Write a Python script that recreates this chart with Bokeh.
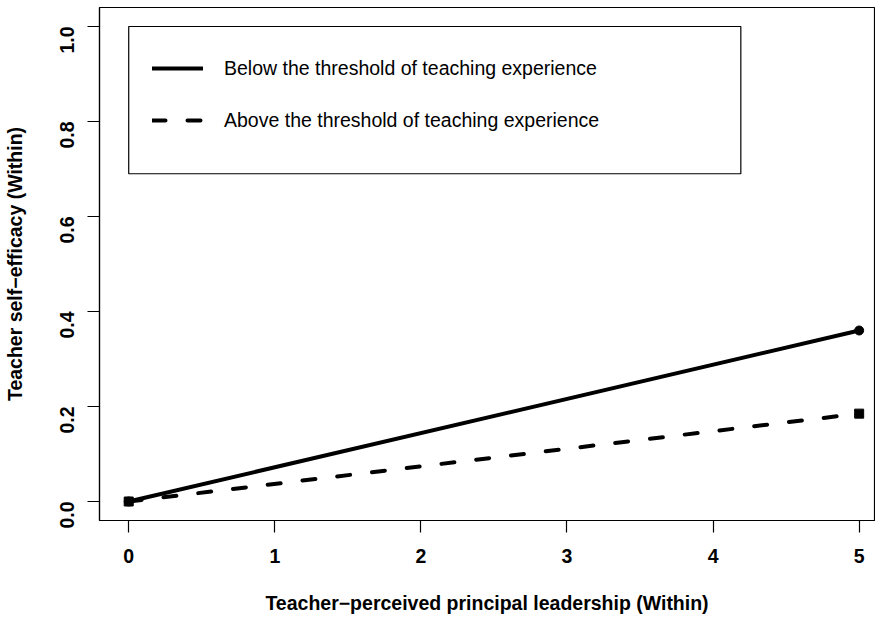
import math
from bokeh.plotting import figure
from bokeh.models import (Range1d, FixedTicker, PrintfTickFormatter, Legend, LegendItem,
                          BoxAnnotation, ColumnDataSource)
from bokeh.embed import file_html
from bokeh.resources import INLINE

# ---- data ----
leadership = [0, 5]
below_threshold = [0.0, 0.36]
above_threshold = [0.0, 0.185]
x_ticks = [0, 1, 2, 3, 4, 5]
y_ticks = [0.0, 0.2, 0.4, 0.6, 0.8, 1.0]
series_labels = ["Below the threshold of teaching experience",
                 "Above the threshold of teaching experience"]
x_title = "Teacher\u2212perceived principal leadership (Within)"
y_title = "Teacher self\u2212efficacy (Within)"

FONT = "Liberation Sans"
FS = "19.5px"

p = figure(width=875, height=616, output_backend="svg", toolbar_location=None,
           x_range=Range1d(-0.2, 5.105), y_range=Range1d(-0.04, 1.04),
           min_border_left=92, min_border_right=1, min_border_top=7, min_border_bottom=90)
p.background_fill_color = "white"
p.border_fill_color = "white"
p.outline_line_color = "black"
p.outline_line_width = 1.2
p.xgrid.visible = False
p.ygrid.visible = False

src = ColumnDataSource(dict(x=leadership, below=below_threshold, above=above_threshold))

r1 = p.line("x", "below", source=src, line_color="black", line_width=4, line_cap="round")
r2 = p.line("x", "above", source=src, line_color="black", line_width=4, line_cap="round",
            line_dash="13 22")
p.scatter("x", "below", source=src, marker="circle", size=9, color="black")
p.scatter("x", "above", source=src, marker="square", size=9, color="black")

for ax in (p.xaxis[0], p.yaxis[0]):
    ax.axis_line_color = "black"
    ax.axis_line_width = 1.2
    ax.major_tick_line_color = "black"
    ax.major_tick_line_width = 1.2
    ax.major_tick_in = 0
    ax.major_tick_out = 12
    ax.minor_tick_line_color = None
    ax.major_label_text_font = FONT
    ax.major_label_text_font_size = FS
    ax.major_label_text_font_style = "bold"
    ax.major_label_text_color = "black"
    ax.axis_label_text_font = FONT
    ax.axis_label_text_font_size = FS
    ax.axis_label_text_font_style = "bold"
    ax.axis_label_text_color = "black"

p.xaxis.ticker = FixedTicker(ticks=x_ticks)
p.yaxis.ticker = FixedTicker(ticks=y_ticks)
p.yaxis.formatter = PrintfTickFormatter(format="%.1f")
p.yaxis.major_label_orientation = math.pi / 2
p.xaxis.major_label_standoff = 16
p.yaxis.major_label_standoff = 21
p.xaxis.axis_label = x_title
p.yaxis.axis_label = y_title
p.xaxis.axis_label_standoff = 26
p.yaxis.axis_label_standoff = 24

# legend frame (R legend box, placed at x=0, y=1 in data units)
p.add_layout(BoxAnnotation(left=0, right=4.19, top=1.0, bottom=0.69,
                           fill_alpha=0, line_color="black", line_alpha=1.0, line_width=1.2))

legend = Legend(items=[LegendItem(label=series_labels[0], renderers=[r1]),
                       LegendItem(label=series_labels[1], renderers=[r2])],
                location=(29, 352), margin=0, padding=24, spacing=4,
                glyph_width=51, glyph_height=48, label_height=48, label_standoff=21,
                border_line_alpha=0, background_fill_alpha=0,
                label_text_font=FONT, label_text_font_size=FS, label_text_color="black")
p.add_layout(legend, "center")

open("out.html", "w").write(file_html(p, INLINE))
